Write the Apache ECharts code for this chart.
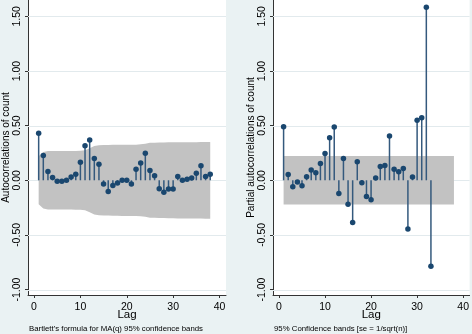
<!DOCTYPE html>
<html>
<head>
<meta charset="utf-8">
<script src="https://cdn.jsdelivr.net/npm/echarts@6/dist/echarts.min.js"></script>
<style>
  html, body { margin: 0; padding: 0; background: #eaf2f3; }
  #chart { width: 472px; height: 334px; }
</style>
</head>
<body>
<div id="chart"></div>
<script>
// lags 1..38
const lags = [1,2,3,4,5,6,7,8,9,10,11,12,13,14,15,16,17,18,19,20,21,22,23,24,25,26,27,28,29,30,31,32,33,34,35,36,37,38]

// autocorrelations of count
const acf = [0.43,0.226,0.08,0.026,-0.01,-0.01,0.0,0.03,0.056,0.166,0.317,0.369,0.2,0.147,-0.035,-0.102,-0.047,-0.026,0.0,0.0,
  -0.035,0.102,0.157,0.248,0.09,0.041,-0.078,-0.11,-0.08,-0.08,0.035,0.0,0.01,0.02,0.065,0.132,0.035,0.056]

// Bartlett band half-width per lag
const acfBand = [0.22,0.258,0.267,0.268,0.268,0.268,0.268,0.268,0.269,0.27,0.274,0.292,0.313,0.32,0.323,0.323,0.325,0.325,0.326,0.326,
  0.326,0.326,0.329,0.334,0.343,0.344,0.345,0.346,0.347,0.348,0.349,0.349,0.349,0.349,0.349,0.35,0.351,0.351]

// partial autocorrelations (lags 1..33)
const pacfLags = [1,2,3,4,5,6,7,8,9,10,11,12,13,14,15,16,17,18,19,20,21,22,23,24,25,26,27,28,29,30,31,32,33]
const pacf = [0.49,0.053,-0.059,-0.016,-0.05,0.032,0.093,0.068,0.153,0.244,0.39,0.488,-0.12,0.199,-0.22,-0.387,0.169,-0.023,-0.148,-0.178,
  0.02,0.126,0.135,0.406,0.102,0.077,0.108,-0.445,0.029,0.549,0.573,1.584,-0.786]

// 1/sqrt(n) band
const pacfBandLags = [1, 38]
const pacfBand = [0.222, 0.222]

const xTicks = [0, 10, 20, 30, 40]
const yTicks = [-1, -0.5, 0, 0.5, 1, 1.5]
const yTickLabels = ['-1.00', '-0.50', '0.00', '0.50', '1.00', '1.50']

const font = 'Liberation Sans, Arial, Helvetica, sans-serif'
const navy = '#1a476f'

const bandRender = (bl, bv) => (params, api) => {
  if (params.dataIndex !== 0) return
  const upper = bl.map((l, i) => api.coord([l, bv[i]]))
  const lower = bl.map((l, i) => api.coord([l, -bv[i]])).reverse()
  return {
    type: 'polygon',
    shape: { points: upper.concat(lower) },
    style: { fill: '#c2c2c2' }
  }
}

const stemRender = (params, api) => {
  const p0 = api.coord([api.value(0), 0])
  const p1 = api.coord([api.value(0), api.value(1)])
  return {
    type: 'line',
    shape: { x1: p0[0], y1: p0[1], x2: p1[0], y2: p1[1] },
    style: { stroke: '#34597d', lineWidth: 1.5 }
  }
}

// horizontal grid lines drawn at the y ticks, under the band
const gridRender = (params, api) => {
  const a = api.coord([-1.3, api.value(1)])
  const b = api.coord([41.4, api.value(1)])
  return {
    type: 'line',
    shape: { x1: a[0], y1: Math.round(a[1]) + 0.5, x2: b[0], y2: Math.round(b[1]) + 0.5 },
    style: { stroke: '#e2eaed', lineWidth: 1 }
  }
}

const makeX = (gi) => ({
  type: 'value',
  gridIndex: gi,
  min: -1.3,
  max: 41.4,
  name: 'Lag',
  nameLocation: 'middle',
  nameGap: 14,
  nameMoveOverlap: false,
  nameTextStyle: { color: '#000', fontSize: 11.5, fontFamily: font },
  axisLine: { show: true, onZero: false, lineStyle: { color: '#333', width: 1 } },
  axisTick: { show: true, length: 3, customValues: xTicks, lineStyle: { color: '#333' } },
  axisLabel: { customValues: xTicks, margin: 7, color: '#000', fontSize: 10.5, fontFamily: font },
  splitLine: { show: false }
})

const makeY = (gi, title) => ({
  type: 'value',
  gridIndex: gi,
  min: -1.05,
  max: 1.65,
  name: title,
  nameLocation: 'middle',
  nameGap: 17,
  nameRotate: 90,
  nameMoveOverlap: false,
  nameTextStyle: { color: '#000', fontSize: 10, fontFamily: font },
  axisLine: { show: true, onZero: false, lineStyle: { color: '#333', width: 1 } },
  axisTick: { show: true, length: 3, customValues: yTicks, lineStyle: { color: '#333' } },
  axisLabel: {
    customValues: yTicks,
    rotate: 90,
    margin: 5,
    color: '#000',
    fontSize: 10.5,
    fontFamily: font,
    formatter: (v) => yTickLabels[yTicks.findIndex(t => Math.abs(t - v) < 1e-9)]
  },
  splitLine: { show: false }
})

const panel = (gi, xs, vals, bl, bv) => [
  {
    type: 'custom',
    xAxisIndex: gi,
    yAxisIndex: gi,
    z: 1,
    silent: true,
    renderItem: gridRender,
    encode: { x: 0, y: 1 },
    data: yTicks.map(v => [0, v])
  },
  {
    type: 'custom',
    xAxisIndex: gi,
    yAxisIndex: gi,
    z: 2,
    silent: true,
    renderItem: bandRender(bl, bv),
    encode: { x: 0, y: 1 },
    data: bl.map((l, i) => [l, bv[i]])
  },
  {
    type: 'custom',
    xAxisIndex: gi,
    yAxisIndex: gi,
    z: 3,
    silent: true,
    renderItem: stemRender,
    encode: { x: 0, y: 1 },
    data: xs.map((l, i) => [l, vals[i]])
  },
  {
    type: 'scatter',
    xAxisIndex: gi,
    yAxisIndex: gi,
    z: 4,
    symbol: 'circle',
    symbolSize: 5.5,
    itemStyle: { color: navy, opacity: 1 },
    data: xs.map((l, i) => [l, vals[i]])
  }
]

const chart = echarts.init(document.getElementById('chart'))
chart.setOption({
  animation: false,
  backgroundColor: '#eaf2f3',
  grid: [
    { left: 27, top: 0, width: 199, height: 295, show: true, backgroundColor: '#fff', borderWidth: 0 },
    { left: 273, top: 0, width: 199, height: 295, show: true, backgroundColor: '#fff', borderWidth: 0 }
  ],
  xAxis: [makeX(0), makeX(1)],
  yAxis: [makeY(0, 'Autocorrelations of count'), makeY(1, 'Partial autocorrelations of count')],
  graphic: [
    { type: 'text', left: 29, top: 325, style: { text: "Bartlett's formula for MA(q) 95% confidence bands", fill: '#000', fontSize: 7.8, fontFamily: font } },
    { type: 'text', left: 274, top: 325, style: { text: '95% Confidence bands [se = 1/sqrt(n)]', fill: '#000', fontSize: 7.8, fontFamily: font } }
  ],
  series: [...panel(0, lags, acf, lags, acfBand), ...panel(1, pacfLags, pacf, pacfBandLags, pacfBand)]
})

window.addEventListener('resize', () => chart.resize())
</script>
</body>
</html>
